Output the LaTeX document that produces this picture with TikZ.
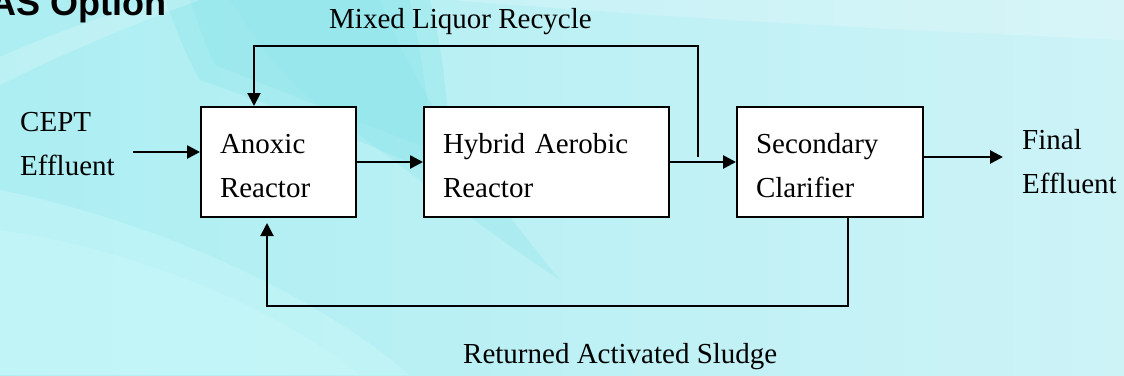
\documentclass[tikz,border=0pt]{standalone}
\usepackage{fontspec}
\setmainfont{Liberation Serif}
\newfontfamily\titlefont{Liberation Sans}
\usepackage{xcolor}
\usepackage{tikz}
\usetikzlibrary{arrows.meta,positioning}
\definecolor{bgleft}{HTML}{ACEEF2}
\definecolor{bgright}{HTML}{CDF3F7}
\definecolor{bgdark}{HTML}{8CE5EA}
\definecolor{bglight}{HTML}{C8F7F9}

\begin{document}
\begin{tikzpicture}[
  x=1pt, y=-1pt,
  font=\fontsize{29}{44}\selectfont,
  unitbox/.style={draw=black, fill=white, line width=2pt, align=left,
               inner xsep=19pt, minimum height=110pt, anchor=center,
               execute at begin node=\rule{0pt}{28pt}},
  flow/.style={-{Triangle[length=13pt,width=13pt]}, line width=2.6pt},
  loopline/.style={-{Triangle[length=13pt,width=13pt]}, line width=2pt},
  lbl/.style={align=left, inner sep=0pt, anchor=base west}
]
\useasboundingbox (0,0) rectangle (1124,375);
% background
\shade[left color=bgleft, right color=bgright] (0,0) rectangle (1124,375);
\fill[bgdark, opacity=0.35] (165,0) -- (430,0) .. controls (445,60) and (450,120) .. (450,180)
  .. controls (380,150) and (290,110) .. (200,80) .. controls (185,55) and (175,25) .. (165,0);
\fill[bgdark, opacity=0.35] (190,0) -- (410,0) .. controls (420,50) and (430,100) .. (430,150)
  .. controls (370,125) and (290,95) .. (215,65) .. controls (205,45) and (197,20) .. (190,0);
\fill[bgdark, opacity=0.3] (230,0) -- (380,0) .. controls (410,80) and (470,170) .. (560,280)
  .. controls (470,220) and (380,150) .. (300,90) .. controls (270,60) and (250,30) .. (230,0);
\fill[bglight, opacity=0.5] (0,190) .. controls (150,220) and (310,290) .. (410,375) -- (0,375) -- cycle;
\fill[bglight, opacity=0.5] (0,230) .. controls (140,250) and (280,310) .. (360,375) -- (0,375) -- cycle;
\fill[white, opacity=0.2] (0,57) .. controls (60,30) and (120,10) .. (165,0) -- (200,0)
  .. controls (130,25) and (60,55) .. (0,85) -- cycle;
\fill[white, opacity=0.2] (450,0) -- (1124,0) -- (1124,40) .. controls (900,30) and (700,20) .. (450,0);

% title
\node[lbl, font=\titlefont\fontsize{36}{40}\selectfont\bfseries] (title) at (-10,15) {AS Option};

% units
\node[unitbox, text width=117pt] (anox) at (278.5,162) {Anoxic\\Reactor};
\node[unitbox, text width=207pt, right=66pt of anox] (hybr) {Hybrid Aerobic\\Reactor};
\node[unitbox, text width=148pt, right=66pt of hybr] (clar) {Secondary\\Clarifier};

% labels
\node[lbl] (cept) at (20,175) {CEPT\\Effluent};
\node[lbl] (final) at (1022,193) {Final\\Effluent};
\node[lbl] (mlrlbl) at (329,28) {Mixed Liquor Recycle};
\node[lbl] (raslbl) at (463,363) {Returned Activated Sludge};

% connectors
\coordinate (ceptin) at (133,152);
\coordinate (finout) at (1003,157);
\coordinate (mlrtap) at (698,157);
\coordinate (mlrtop) at (254,46);
\coordinate (rasbot) at (267,306);
\draw[flow] (ceptin) -- (ceptin -| anox.west);
\draw[flow] (anox) -- (hybr);
\draw[flow] (hybr) -- (clar);
\draw[flow] (finout -| clar.east) -- (finout);
\draw[loopline] (mlrtap) |- (mlrtop) -- (mlrtop |- anox.north);
\draw[loopline, shorten >=5pt] ([xshift=18pt]clar.south) |- (rasbot) -- (rasbot |- anox.south);
\end{tikzpicture}
\end{document}
